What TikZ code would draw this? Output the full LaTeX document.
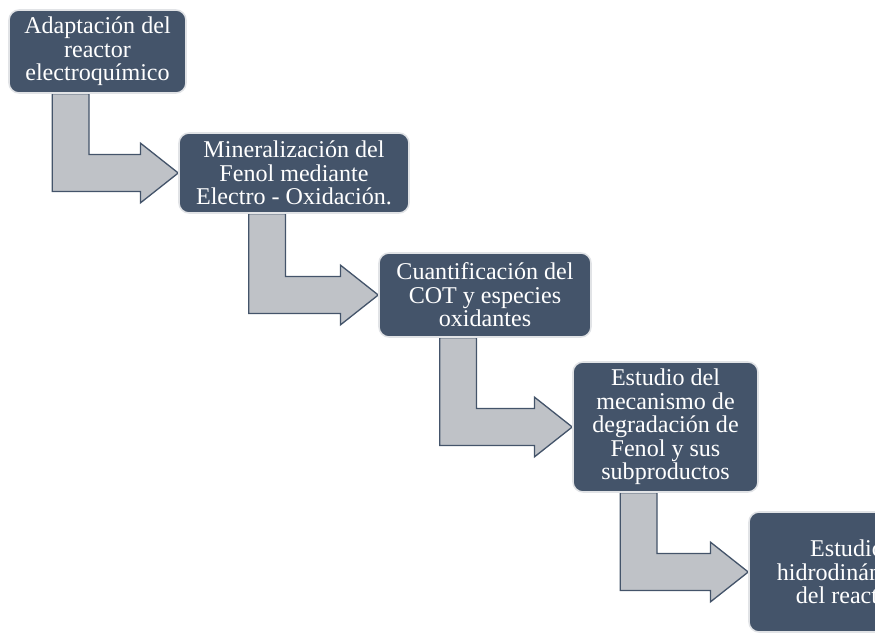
\documentclass[tikz,border=0pt]{standalone}
\usepackage{fontspec}
\setmainfont{Liberation Serif}
\usetikzlibrary{calc,backgrounds}
\definecolor{pizarra}{HTML}{44546A}
\definecolor{grisflecha}{RGB}{191,194,199}
\definecolor{borde}{RGB}{225,227,230}
\tikzset{
  caja/.style={draw=borde, line width=0.9pt, fill=pizarra, rounded corners=0.2cm,
    text=white, align=center, inner sep=0pt, font=\fontsize{13.7}{13.4}\selectfont},
  flecha/.style={draw=pizarra, line width=0.75pt, fill=grisflecha, line join=miter}
}
\begin{document}
\begin{tikzpicture}[x=0.02cm,y=-0.02cm]
  \useasboundingbox (0,0) rectangle (875,635);
  \clip (0,0) rectangle (875,635);
  \node[caja, minimum width=3.54cm, minimum height=1.66cm] (b1) at (97.5,51.5)
    {Adaptación del\\reactor\\electroquímico};
  \node[caja, minimum width=4.6cm, minimum height=1.6cm] (b2) at (294,173)
    {Mineralización del\\Fenol mediante\\Electro - Oxidación.};
  \node[caja, minimum width=4.24cm, minimum height=1.68cm] (b3) at (485,295)
    {Cuantificación del\\COT y especies\\oxidantes};
  \node[caja, minimum width=3.7cm, minimum height=2.6cm] (b4) at (665.5,427)
    {Estudio del\\mecanismo de\\degradación de\\Fenol y sus\\subproductos};
  \node[caja, minimum width=3.92cm, minimum height=2.4cm] (b5) at (847,572)
    {Estudio\\hidrodinámico\\del reactor};
  \begin{scope}[on background layer]
    \foreach \a/\b in {b1/b2,b2/b3,b3/b4,b4/b5}
      \draw[flecha] let \p1=(\a.south), \p2=(\b.west) in
        (\x1-25.8pt,\y1) -- (\x1-4.8pt,\y1) -- (\x1-4.8pt,\y2+10.5pt)
        -- (\x2-21.5pt,\y2+10.5pt) -- (\x2-21.5pt,\y2+17pt) -- (\p2)
        -- (\x2-21.5pt,\y2-17pt) -- (\x2-21.5pt,\y2-10.5pt)
        -- (\x1-25.8pt,\y2-10.5pt) -- cycle;
  \end{scope}
\end{tikzpicture}
\end{document}
